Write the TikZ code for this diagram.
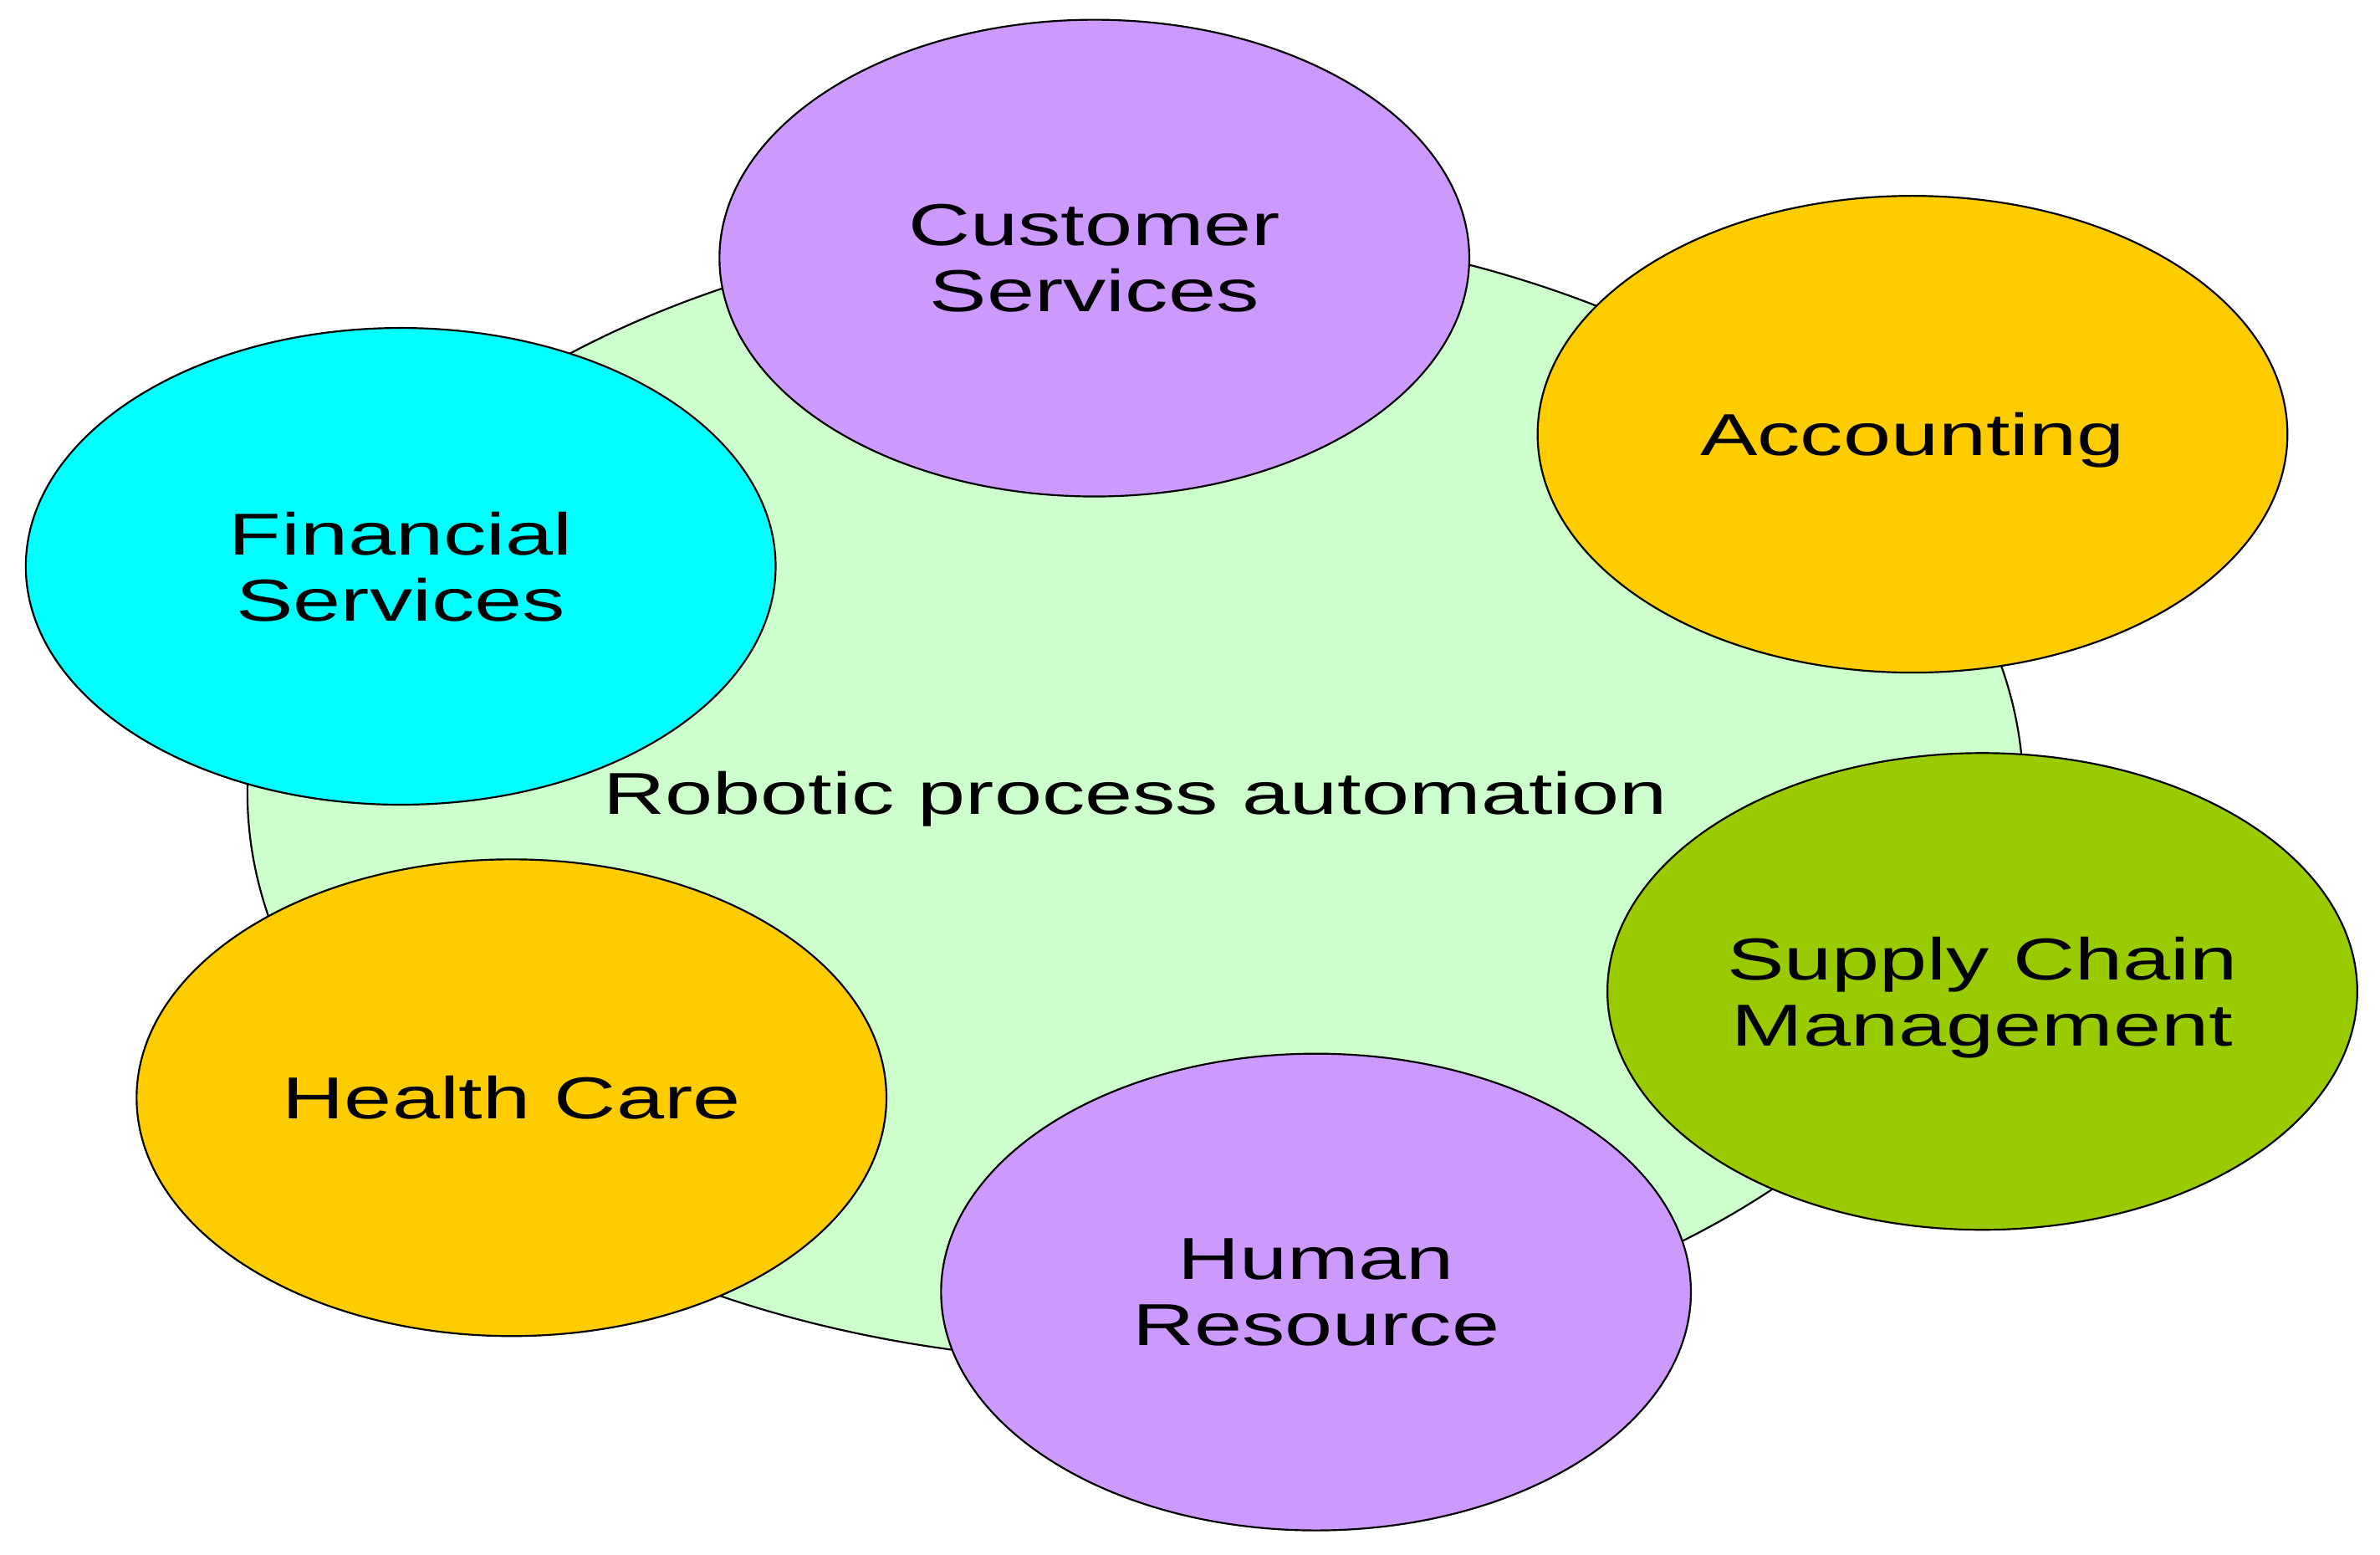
\documentclass[tikz,border=0pt]{standalone}
\usepackage{fontspec}
\usetikzlibrary{shapes.geometric}
\newfontfamily\widefont{Liberation Sans}[FakeStretch=1.45]
\definecolor{bigc}{HTML}{CCFFCC}
\definecolor{purp}{HTML}{CC99FF}
\definecolor{oran}{HTML}{FFCC00}
\definecolor{cyanc}{HTML}{00FFFF}
\definecolor{grn}{HTML}{99CC00}
\tikzset{
  lbl/.style={font=\widefont\fontsize{19.5}{21.7}\selectfont, align=center, text=black, text depth=0pt},
  topic/.style={ellipse, draw=black, line width=0.6pt, minimum width=247pt, minimum height=157pt, inner sep=0pt, lbl},
  hub/.style={ellipse, draw=black, line width=0.6pt, fill=bigc, minimum width=585pt, minimum height=375pt, inner sep=0pt, lbl}
}
\begin{document}
\begin{tikzpicture}[x=0.5pt,y=-0.5pt]
\useasboundingbox (0,0) rectangle (1568,1024);
\node[hub] (rpa) at (748,522) {Robotic process automation};
\node[topic, fill=purp] (cs) at (721,170) {Customer\\Services};
\node[topic, fill=oran] (acc) at (1260,286) {Accounting};
\node[topic, fill=cyanc] (fs) at (264,373) {Financial\\Services};
\node[topic, fill=grn] (scm) at (1306,653) {Supply Chain\\Management};
\node[topic, fill=oran] (hc) at (337,723) {Health Care};
\node[topic, fill=purp] (hr) at (867,851) {Human\\Resource};
\end{tikzpicture}
\end{document}
